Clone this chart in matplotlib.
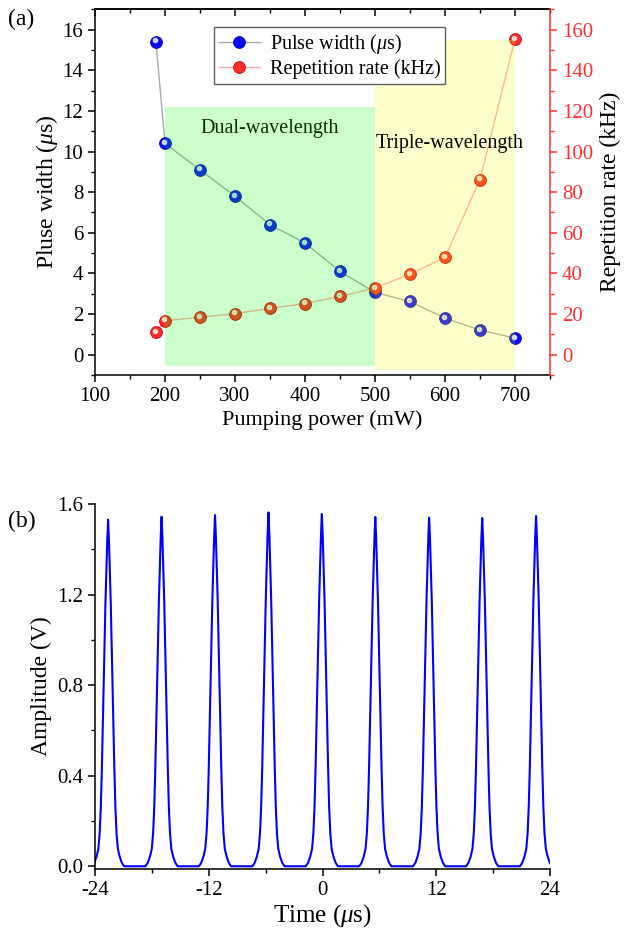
import matplotlib
matplotlib.use("Agg")
import matplotlib.pyplot as plt
import matplotlib.transforms as mtransforms
from matplotlib.ticker import MultipleLocator, FormatStrFormatter

plt.rcParams['font.family'] = ['Liberation Serif', 'DejaVu Serif']
plt.rcParams['mathtext.fontset'] = 'custom'
plt.rcParams['mathtext.rm'] = 'Liberation Serif'
plt.rcParams['mathtext.it'] = 'Liberation Serif:italic'
plt.rcParams['axes.unicode_minus'] = False
plt.rcParams['axes.linewidth'] = 1.1

# --- (a) pulse width / repetition rate vs pump power ---
power = [187, 200, 250, 300, 350, 400, 450, 500, 550, 600, 650, 700]
pulse_width = [15.4, 10.4, 9.1, 7.8, 6.4, 5.5, 4.1, 3.07, 2.62, 1.8, 1.21, 0.82]
rep_rate = [11.1, 16.7, 18.4, 20.2, 22.8, 25.2, 28.7, 32.8, 39.7, 47.9, 86.2, 155.4]

# shaded regimes (x range, y bottom, y top in pulse-width units)
dual_x = [200, 500]
dual_y = (-0.55, 12.2)
triple_x = [500, 700]
triple_y = (-0.75, 15.5)

# --- (b) pulse train ---
peak_t = [-22.62, -16.98, -11.34, -5.70, -0.07, 5.57, 11.25, 16.85, 22.53]
peak_amp = [1.531, 1.544, 1.551, 1.563, 1.556, 1.543, 1.540, 1.538, 1.547]
# one pulse profile: offset from peak (us), relative amplitude
pulse_dt = [0.0, 0.09, 0.19, 0.28, 0.36, 0.44, 0.52, 0.59, 0.66, 0.77, 0.89, 1.03, 1.22, 1.45, 1.7]
pulse_shape = [1.0, 0.94, 0.85, 0.76, 0.66, 0.56, 0.47, 0.37, 0.28, 0.17, 0.095, 0.05, 0.028, 0.01, 0.0]

fig = plt.figure(figsize=(6.39, 9.32), dpi=100)

# ---------------- panel (a) ----------------
ax1 = fig.add_axes([0.1487, 0.5976, 0.712, 0.3924])
ax2 = ax1.twinx()

hl1 = mtransforms.offset_copy(ax1.transData, fig=fig, x=-1.0, y=1.0, units='points')
hl2 = mtransforms.offset_copy(ax2.transData, fig=fig, x=-1.0, y=1.0, units='points')

l1, = ax1.plot(power, pulse_width, '-', color='#a8a8a8', lw=1.0, marker='o', ms=8.5,
               mfc='#0a0aff', mec='#0000a0', mew=0.6, zorder=3, label='Pulse width ($\\mu$s)')
ax1.plot(power, pulse_width, 'o', ms=3, color='white', alpha=0.75, transform=hl1, zorder=4)

l2, = ax2.plot(power, rep_rate, '-', color='#ffa8a8', lw=1.0, marker='o', ms=8.5,
               mfc='#ff2a2a', mec='#c00000', mew=0.6, zorder=3, label='Repetition rate (kHz)')
ax2.plot(power, rep_rate, 'o', ms=3, color='white', alpha=0.75, transform=hl2, zorder=4)

# shading drawn on the top axes so it tints both series
ax2.fill_between(dual_x, dual_y[0], dual_y[1], color='#00ff00', alpha=0.2, lw=0,
                 transform=ax1.transData, zorder=5)
ax2.fill_between(triple_x, triple_y[0], triple_y[1], color='#ffff00', alpha=0.2, lw=0,
                 transform=ax1.transData, zorder=5)

ax1.text(349, 11.15, 'Dual-wavelength', ha='center', va='center', fontsize=14.5, zorder=6)
ax2.text(607, 104, 'Triple-wavelength', ha='center', va='center', fontsize=14.5, zorder=6)

ax1.set_xlim(100, 750)
ax1.set_ylim(-1, 17)
ax2.set_ylim(-10, 170)
ax1.xaxis.set_major_locator(MultipleLocator(100))
ax1.xaxis.set_minor_locator(MultipleLocator(50))
ax1.yaxis.set_major_locator(MultipleLocator(2))
ax1.yaxis.set_minor_locator(MultipleLocator(1))
ax2.yaxis.set_major_locator(MultipleLocator(20))
ax2.yaxis.set_minor_locator(MultipleLocator(10))

ax1.tick_params(which='both', direction='out', labelsize=15)
ax1.tick_params(which='major', length=5, width=1.1)
ax1.tick_params(which='minor', length=3, width=1.0)
ax1.spines['right'].set_visible(False)
top = ax1.secondary_xaxis('top')
top.xaxis.set_major_locator(MultipleLocator(100))
top.xaxis.set_minor_locator(MultipleLocator(50))
top.tick_params(which='both', direction='in', labeltop=False)
top.tick_params(which='major', length=5, width=1.1)
top.tick_params(which='minor', length=3, width=1.0)

ax2.spines['right'].set_color('#ff3030')
ax2.tick_params(axis='y', which='both', direction='out', colors='#ff3030', labelsize=15)
ax2.tick_params(axis='y', which='major', length=5, width=1.1)
ax2.tick_params(axis='y', which='minor', length=3, width=1.0)
ax2.spines['top'].set_visible(False)
ax2.spines['left'].set_visible(False)
ax2.spines['bottom'].set_visible(False)

ax1.set_xlabel('Pumping power (mW)', fontsize=16, labelpad=3)
ax1.set_ylabel('Pluse width ($\\mu$s)', fontsize=17, labelpad=2)
ax2.set_ylabel('Repetition rate (kHz)', fontsize=17, labelpad=5)

leg = ax2.legend(handles=[l1, l2], loc='upper left', bbox_to_anchor=(0.262, 0.952),
                 borderaxespad=0, fontsize=14.5, frameon=True, fancybox=False,
                 framealpha=1, edgecolor='#606060', handlelength=2.0, handletextpad=0.5,
                 borderpad=0.25, labelspacing=0.15)
leg.get_frame().set_linewidth(1.0)
leg.set_zorder(10)

fig.text(0.012, 0.979, '(a)', fontsize=17, va='center', ha='left')

# ---------------- panel (b) ----------------
ax3 = fig.add_axes([0.1487, 0.0676, 0.712, 0.3916])
t_all = []
v_all = []
for c, h in zip(peak_t, peak_amp):
    for dt, s in zip(pulse_dt[::-1], pulse_shape[::-1]):
        t_all.append(c - dt)
        v_all.append(h * s)
    for dt, s in zip(pulse_dt[1:], pulse_shape[1:]):
        t_all.append(c + dt)
        v_all.append(h * s)
ax3.plot(t_all, v_all, color='#0000ff', lw=1.5)

ax3.set_xlim(-24, 24)
ax3.set_ylim(-0.012, 1.6)
ax3.set_xticks([-24, -12, 0, 12, 24])
ax3.xaxis.set_minor_locator(MultipleLocator(6))
ax3.yaxis.set_major_locator(MultipleLocator(0.4))
ax3.yaxis.set_minor_locator(MultipleLocator(0.2))
ax3.yaxis.set_major_formatter(FormatStrFormatter('%.1f'))
ax3.spines['top'].set_visible(False)
ax3.spines['right'].set_visible(False)
ax3.tick_params(which='both', direction='out', labelsize=15)
ax3.tick_params(which='major', length=5, width=1.1)
ax3.tick_params(which='minor', length=3, width=1.0)
ax3.set_xlabel('Time ($\\mu$s)', fontsize=18, labelpad=2)
ax3.set_ylabel('Amplitude (V)', fontsize=17, labelpad=4)

fig.text(0.012, 0.44, '(b)', fontsize=17, va='center', ha='left')

fig.savefig('out.png', dpi=100)
